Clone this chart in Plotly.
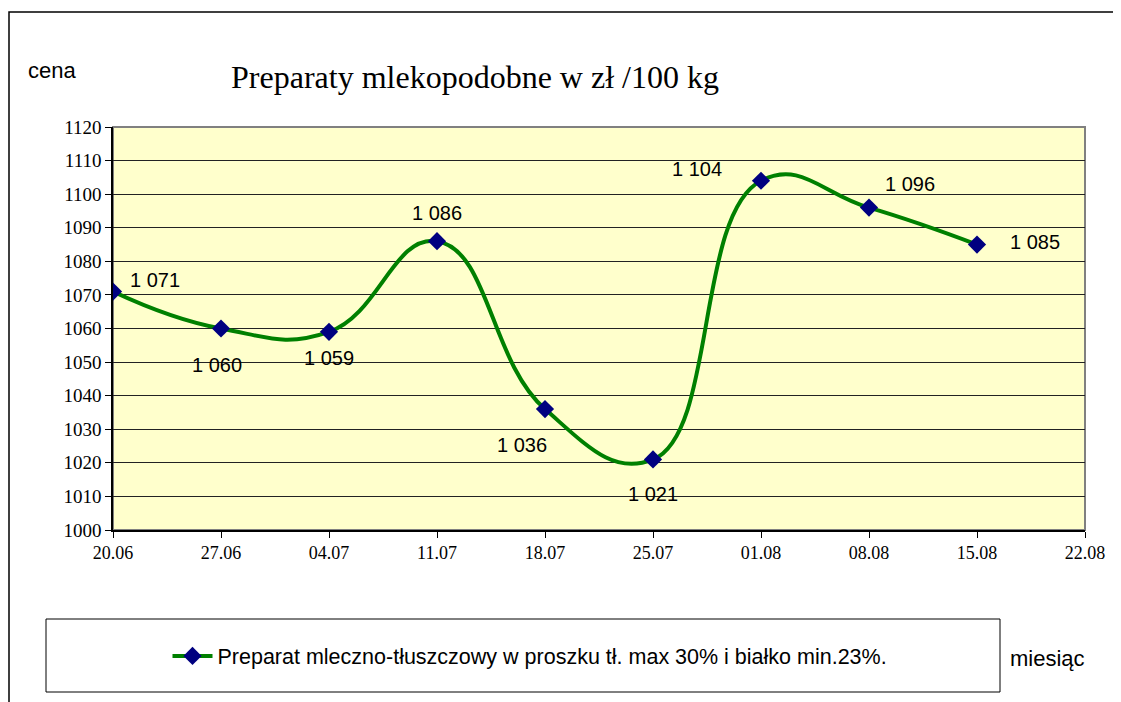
import plotly.graph_objects as go

dates = ["20.06", "27.06", "04.07", "11.07", "18.07", "25.07", "01.08", "08.08", "15.08", "22.08"]
prices = [1071, 1060, 1059, 1086, 1036, 1021, 1104, 1096, 1085]
labels = ["1 071", "1 060", "1 059", "1 086", "1 036", "1 021", "1 104", "1 096", "1 085"]
label_dx = [42, -4, 0, 0, -23, 0, -64, 41, 58]
label_dy = [12, -36, -26, 28, -36, -35, 12, 24, 3]
series_name = "Preparat mleczno-tłuszczowy w proszku tł. max 30% i białko min.23%."

OFF = 8  # page body margin in the browser
W, H = 1121 - OFF, 702 - OFF
L, R, T, B = 113 - OFF, 1085 - OFF, 127 - OFF, 530 - OFF

xs = list(range(len(prices)))

fig = go.Figure()
fig.add_trace(go.Scatter(
    x=xs, y=prices, mode="lines+markers", name=series_name,
    line=dict(color="#008000", width=4, shape="spline", smoothing=1.3),
    marker=dict(symbol="diamond", size=14, color="#000080", line=dict(width=0)),
))

for i, (v, t) in enumerate(zip(prices, labels)):
    fig.add_annotation(x=i, y=v, text=t, showarrow=False, xshift=label_dx[i], yshift=label_dy[i],
                       font=dict(family="Liberation Sans, Arial", size=20, color="#000000"))

def px(xp):
    return (xp - OFF - L) / (R - L)

def py(yp):
    return (B - (yp - OFF)) / (B - T)

# outer chart border
fig.add_shape(type="rect", xref="paper", yref="paper", x0=px(9), x1=px(1140), y0=py(12), y1=py(720),
              line=dict(color="#000000", width=1.5), layer="below")
# plot area border (gray top/right)
fig.add_shape(type="rect", xref="paper", yref="paper", x0=0, x1=1, y0=0, y1=1,
              line=dict(color="#808080", width=2), layer="below")
# legend box
fig.add_shape(type="rect", xref="paper", yref="paper", x0=px(46), x1=px(1000), y0=py(692), y1=py(619),
              line=dict(color="#000000", width=1), fillcolor="white")

fig.add_annotation(xref="paper", yref="paper", x=px(26), y=py(70), text="cena", showarrow=False,
                   xanchor="left", yanchor="middle", font=dict(family="Liberation Sans, Arial", size=22, color="#000"))
fig.add_annotation(xref="paper", yref="paper", x=px(1008), y=py(658), text="miesiąc", showarrow=False,
                   xanchor="left", yanchor="middle", font=dict(family="Liberation Sans, Arial", size=22, color="#000"))

fig.update_layout(
    width=W, height=H,
    margin=dict(l=L, r=W - R, t=T, b=H - B, pad=0),
    paper_bgcolor="white", plot_bgcolor="#FFFFCC",
    title=dict(text="Preparaty mlekopodobne w zł /100 kg", x=(475 - OFF) / W, xanchor="center",
               y=1 - (77 - OFF) / H, yanchor="middle",
               font=dict(family="Liberation Serif, Times New Roman", size=32, color="#000")),
    showlegend=True,
    legend=dict(x=px(530), y=py(656), xanchor="center", yanchor="middle", bgcolor="rgba(0,0,0,0)",
                borderwidth=0, font=dict(family="Liberation Sans, Arial", size=21.5, color="#000"),
                itemwidth=40),
    xaxis=dict(range=[0, len(dates) - 1], tickmode="array", tickvals=list(range(len(dates))), ticktext=dates,
               showgrid=False, zeroline=False, showline=True, linecolor="#000", linewidth=1.5,
               ticks="outside", ticklen=6, tickcolor="#000",
               tickfont=dict(family="Liberation Serif, Times New Roman", size=18, color="#000")),
    yaxis=dict(range=[1000, 1120], tickmode="linear", tick0=1000, dtick=10,
               showgrid=True, gridcolor="#222222", gridwidth=1, zeroline=False,
               showline=True, linecolor="#000", linewidth=1.5,
               ticks="outside", ticklen=6, tickcolor="#000",
               tickfont=dict(family="Liberation Serif, Times New Roman", size=19, color="#000")),
)

fig.write_html("out.html")
